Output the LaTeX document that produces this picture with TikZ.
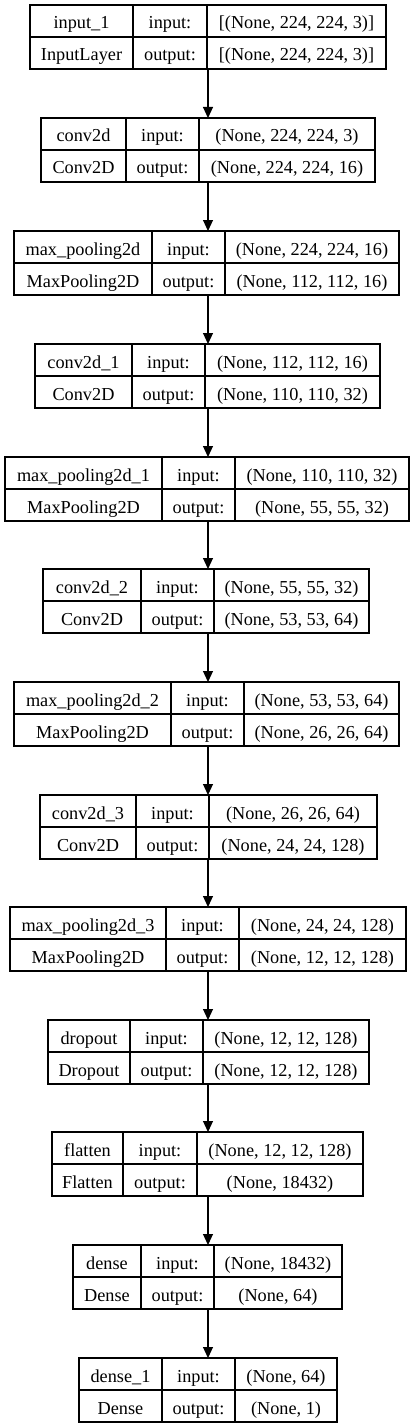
\documentclass[tikz,border=0pt]{standalone}
\usepackage{fontspec}
\setmainfont{Liberation Serif}
\usetikzlibrary{arrows.meta}
\tikzset{
  ln/.style={draw=black, line width=1pt},
  box/.style={ln, rectangle, inner sep=0pt, outer sep=0pt},
  txt/.style={anchor=base, inner sep=0pt, font=\fontsize{13.7pt}{16pt}\selectfont},
  arr/.style={draw=black, line width=0.8pt, -{Triangle[length=8.25pt,width=7.5pt]}}
}
\newcommand\geom[6]{\def\gname{#1}\def\gtop{#2}\def\gxa{#3}\def\gda{#4}\def\gdb{#5}\def\gxb{#6}}
\newcommand\layer[4]{%
  \pgfmathsetmacro\cxx{(\gxa+\gxb)/2}%
  \pgfmathsetmacro\cyy{\gtop+32}%
  \pgfmathsetmacro\wdpt{(\gxb-\gxa)*0.75}%
  \node[box, minimum width=\wdpt pt, minimum height=48pt] (\gname) at (\cxx,\cyy) {};
  \draw[ln] (\gda,\gtop) -- (\gda,\gtop+64);
  \draw[ln] (\gdb,\gtop) -- (\gdb,\gtop+64);
  \draw[ln] (\gxa,\gtop+32) -- (\gxb,\gtop+32);
  \node[txt] at ({(\gxa+\gda)/2},\gtop+24) {#1};
  \node[txt] at ({(\gxa+\gda)/2},\gtop+56) {#2};
  \node[txt] at ({(\gda+\gdb)/2},\gtop+24) {input:};
  \node[txt] at ({(\gda+\gdb)/2},\gtop+56) {output:};
  \node[txt] at ({(\gdb+\gxb)/2},\gtop+24) {#3};
  \node[txt] at ({(\gdb+\gxb)/2},\gtop+56) {#4};
}
\begin{document}
\begin{tikzpicture}[x=0.75pt, y=-0.75pt]
\useasboundingbox[fill=white] (0,0) rectangle (416,1427);
\coordinate (ax) at (208,0);
\geom{in1}{5}{30}{133}{207}{386}
\layer{input\_1}{InputLayer}{[(None, 224, 224, 3)]}{[(None, 224, 224, 3)]}
\geom{c0}{118}{41}{126}{199}{375}
\layer{conv2d}{Conv2D}{(None, 224, 224, 3)}{(None, 224, 224, 16)}
\geom{mp0}{231}{14}{152}{225}{399}
\layer{max\_pooling2d}{MaxPooling2D}{(None, 224, 224, 16)}{(None, 112, 112, 16)}
\geom{c1}{344}{35}{132}{205}{380}
\layer{conv2d\_1}{Conv2D}{(None, 112, 112, 16)}{(None, 110, 110, 32)}
\geom{mp1}{457}{5}{162}{235}{409}
\layer{max\_pooling2d\_1}{MaxPooling2D}{(None, 110, 110, 32)}{(None, 55, 55, 32)}
\geom{c2}{569}{43}{141}{214}{369}
\layer{conv2d\_2}{Conv2D}{(None, 55, 55, 32)}{(None, 53, 53, 64)}
\geom{mp2}{682}{14}{171}{244}{399}
\layer{max\_pooling2d\_2}{MaxPooling2D}{(None, 53, 53, 64)}{(None, 26, 26, 64)}
\geom{c3}{795}{40}{136}{209}{377}
\layer{conv2d\_3}{Conv2D}{(None, 26, 26, 64)}{(None, 24, 24, 128)}
\geom{mp3}{907}{10}{166}{239}{406}
\layer{max\_pooling2d\_3}{MaxPooling2D}{(None, 24, 24, 128)}{(None, 12, 12, 128)}
\geom{drop}{1020}{48}{130}{203}{369}
\layer{dropout}{Dropout}{(None, 12, 12, 128)}{(None, 12, 12, 128)}
\geom{flat}{1132}{52}{123}{197}{363}
\layer{flatten}{Flatten}{(None, 12, 12, 128)}{(None, 18432)}
\geom{d0}{1245}{73}{141}{214}{342}
\layer{dense}{Dense}{(None, 18432)}{(None, 64)}
\geom{d1}{1358}{79}{162}{235}{337}
\layer{dense\_1}{Dense}{(None, 64)}{(None, 1)}
\foreach \a/\b in {in1/c0, c0/mp0, mp0/c1, c1/mp1, mp1/c2, c2/mp2, mp2/c3, c3/mp3, mp3/drop, drop/flat, flat/d0, d0/d1}
  \draw[arr] (\a.south -| ax) -- (\b.north -| ax);
\end{tikzpicture}
\end{document}
